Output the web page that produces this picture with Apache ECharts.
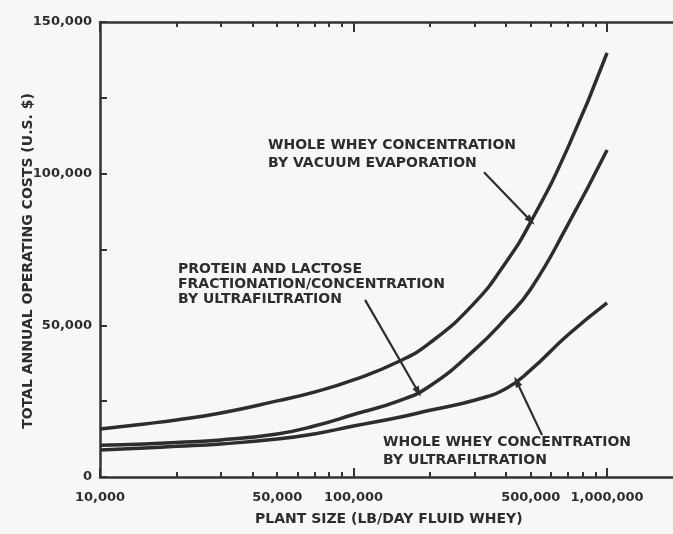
<!DOCTYPE html>
<html>
<head>
<meta charset="utf-8">
<title>Whey processing operating costs</title>
<script src="https://cdn.jsdelivr.net/npm/echarts@6/dist/echarts.min.js"></script>
<style>
  html, body { margin: 0; padding: 0; background: #f7f7f5; }
  #chart { width: 673px; height: 534px; }
</style>
</head>
<body>
<div id="chart"></div>
<script>
// plant size, lb/day fluid whey
var plantSize = [10000, 15000, 20000, 30000, 50000, 70000, 100000, 150000, 200000, 300000, 400000, 500000, 700000, 1000000];
// total annual operating costs, U.S. $
var vacuumEvap = [15800, 17500, 18800, 21100, 25100, 28000, 32000, 38000, 44200, 57400, 70900, 84100, 108500, 139800];
var proteinUF  = [10500, 10900, 11400, 12200, 14200, 16800, 20600, 25000, 30000, 41900, 52400, 62000, 83100, 107800];
var wholeUF    = [8900, 9600, 10100, 10900, 12500, 14200, 16800, 19600, 22000, 25300, 29200, 35300, 46800, 57400];

var xLabelValues = [10000, 50000, 100000, 500000, 1000000];
var xMajorTicks = [10000, 100000, 1000000];
var xMinorTicks = [20000, 30000, 40000, 50000, 60000, 70000, 80000, 90000,
                   200000, 300000, 400000, 500000, 600000, 700000, 800000, 900000];

var ink = '#2d2d2d';
var font = 'DejaVu Sans';

function pairs(ys) {
  var out = [];
  for (var i = 0; i < plantSize.length; i++) {
    out.push([plantSize[i], ys[i]]);
  }
  return out;
}

function arrow(from, to) {
  return {
    silent: true,
    symbol: ['none', 'triangle'],
    symbolSize: [7, 11],
    label: { show: false },
    lineStyle: { color: ink, width: 2.2, type: 'solid' },
    emphasis: { disabled: true },
    data: [[{ coord: from }, { coord: to }]]
  };
}

function logAxis(pos, ticks, len, withLine, withLabels) {
  return {
    type: 'log',
    position: pos,
    min: 10000,
    max: 1820000,
    gridIndex: 0,
    splitLine: { show: false },
    axisLine: { show: withLine, onZero: false, lineStyle: { color: '#333', width: 2.5 } },
    axisTick: { show: true, inside: true, length: len, customValues: ticks,
                lineStyle: { color: '#333', width: 2 } },
    axisLabel: {
      show: withLabels,
      customValues: xLabelValues,
      margin: 14,
      color: ink,
      fontFamily: font,
      fontWeight: 'bold',
      fontSize: 13,
      formatter: function (v) { return Number(v).toLocaleString('en-US'); }
    }
  };
}

var myChart = echarts.init(document.getElementById('chart'));

var option = {
  backgroundColor: '#f7f7f5',
  animation: false,
  grid: { left: 100, right: 0, top: 22, bottom: 57 },
  xAxis: [
    logAxis('bottom', xMajorTicks, 9, true, true),
    logAxis('bottom', xMinorTicks, 5, false, false),
    logAxis('top', xMajorTicks, 10, true, false),
    logAxis('top', xMinorTicks, 5, false, false)
  ],
  yAxis: {
    type: 'value',
    min: 0,
    max: 150000,
    interval: 25000,
    splitLine: { show: false },
    axisLine: { show: true, lineStyle: { color: '#333', width: 2.5 } },
    axisTick: { inside: true, length: 7, lineStyle: { color: '#333', width: 2 } },
    axisLabel: {
      margin: 8,
      color: ink,
      fontFamily: font,
      fontWeight: 'bold',
      fontSize: 13,
      formatter: function (v) {
        return v % 50000 === 0 ? v.toLocaleString('en-US') : '';
      }
    }
  },
  series: [
    {
      name: 'WHOLE WHEY CONCENTRATION BY VACUUM EVAPORATION',
      type: 'line',
      smooth: true,
      showSymbol: false,
      lineStyle: { color: ink, width: 3.5 },
      data: pairs(vacuumEvap),
      markLine: arrow([327000, 100500], [500000, 84500])
    },
    {
      name: 'PROTEIN AND LACTOSE FRACTIONATION/CONCENTRATION BY ULTRAFILTRATION',
      type: 'line',
      smooth: true,
      showSymbol: false,
      lineStyle: { color: ink, width: 3.5 },
      data: pairs(proteinUF),
      markLine: arrow([111000, 58400], [180000, 28000])
    },
    {
      name: 'WHOLE WHEY CONCENTRATION BY ULTRAFILTRATION',
      type: 'line',
      smooth: true,
      showSymbol: false,
      lineStyle: { color: ink, width: 3.5 },
      data: pairs(wholeUF),
      markLine: arrow([554000, 13800], [440000, 31500])
    }
  ],
  graphic: [
    {
      type: 'text', left: 268, top: 136,
      style: { text: 'WHOLE WHEY CONCENTRATION\nBY VACUUM EVAPORATION', fill: ink,
               font: 'bold 14px "DejaVu Sans"', lineHeight: 18 }
    },
    {
      type: 'text', left: 178, top: 262,
      style: { text: 'PROTEIN AND LACTOSE\nFRACTIONATION/CONCENTRATION\nBY ULTRAFILTRATION', fill: ink,
               font: 'bold 14px "DejaVu Sans"', lineHeight: 15 }
    },
    {
      type: 'text', left: 383, top: 433,
      style: { text: 'WHOLE WHEY CONCENTRATION\nBY ULTRAFILTRATION', fill: ink,
               font: 'bold 14px "DejaVu Sans"', lineHeight: 18 }
    },
    {
      // x axis title
      type: 'text', left: 255, top: 512,
      style: { text: 'PLANT SIZE (LB/DAY FLUID WHEY)', fill: ink,
               font: 'bold 14px "DejaVu Sans"' }
    },
    {
      // y axis title
      type: 'text', x: 28, y: 261, rotation: Math.PI / 2,
      style: { text: 'TOTAL ANNUAL OPERATING COSTS (U.S. $)', fill: ink,
               font: 'bold 14px "DejaVu Sans"', align: 'center', verticalAlign: 'middle' }
    }
  ]
};

myChart.setOption(option);
window.addEventListener('resize', function () {
  myChart.resize();
});
</script>
</body>
</html>
